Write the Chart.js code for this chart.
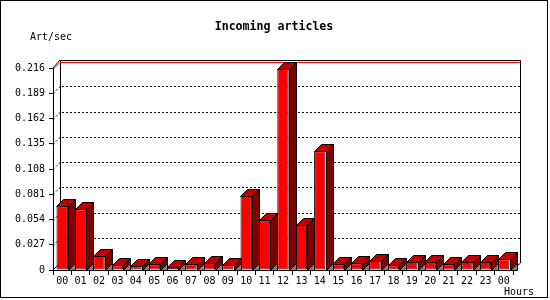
<!DOCTYPE html>
<html>
<head>
<meta charset="utf-8">
<script src="https://cdn.jsdelivr.net/npm/chart.js@4/dist/chart.umd.min.js"></script>
<style>
  html, body { margin: 0; padding: 0; background: #fff; }
  canvas { display: block; }
</style>
</head>
<body>
<canvas id="chart" width="550" height="300"></canvas>
<script>
const hours = ['00', '01', '02', '03', '04', '05', '06', '07', '08', '09', '10', '11',
  '12', '13', '14', '15', '16', '17', '18', '19', '20', '21', '22', '23', '00'];
const incoming = [0.068, 0.065, 0.015, 0.005, 0.004, 0.006, 0.003, 0.006, 0.008, 0.005, 0.079, 0.053,
  0.215, 0.048, 0.127, 0.006, 0.007, 0.010, 0.005, 0.009, 0.009, 0.006, 0.009, 0.009, 0.0115];
const yTicks = [0, 0.027, 0.054, 0.081, 0.108, 0.135, 0.162, 0.189, 0.216];

const MONO = '"DejaVu Sans Mono", monospace';
const DEPTH = 7;

// back wall, dotted grid and the red max line, drawn behind the bars
const backWall = {
  id: 'backWall',
  beforeDatasetsDraw(chart) {
    const { ctx, chartArea: { left, right, top, bottom }, scales: { y } } = chart;
    const bl = left + DEPTH, br = right + DEPTH;
    ctx.save();
    ctx.lineWidth = 1;
    ctx.strokeStyle = '#000';
    ctx.setLineDash([2, 2]);
    yTicks.slice(1, -1).forEach(v => {
      const yf = Math.round(y.getPixelForValue(v)) + 0.5;
      const yb = yf - DEPTH;
      ctx.beginPath();
      ctx.moveTo(left, yf);
      ctx.lineTo(bl, yb);
      ctx.lineTo(br, yb);
      ctx.stroke();
    });
    ctx.setLineDash([]);
    // wall frame
    ctx.beginPath();
    ctx.moveTo(bl + 0.5, bottom - DEPTH);
    ctx.lineTo(bl + 0.5, top - 7.5);
    ctx.lineTo(br + 0.5, top - 7.5);
    ctx.lineTo(br + 0.5, bottom - DEPTH);
    ctx.lineTo(right, bottom);
    ctx.moveTo(left, bottom);
    ctx.lineTo(bl, bottom - DEPTH);
    ctx.moveTo(left, top);
    ctx.lineTo(bl, top - 8);
    ctx.stroke();
    // max line
    const ym = Math.round(y.getPixelForValue(yTicks[yTicks.length - 1])) - 5.5;
    ctx.strokeStyle = '#ff0000';
    ctx.beginPath();
    ctx.moveTo(left, ym + DEPTH);
    ctx.lineTo(bl, ym);
    ctx.lineTo(br, ym);
    ctx.stroke();
    ctx.restore();
  }
};

// top and side faces of the bars plus the little floor shadow
const bars3d = {
  id: 'bars3d',
  afterDatasetsDraw(chart) {
    const { ctx } = chart;
    ctx.save();
    ctx.lineWidth = 1;
    ctx.strokeStyle = '#000';
    chart.getDatasetMeta(0).data.forEach(bar => {
      const x1 = Math.round(bar.x - bar.width / 2) + 0.5;
      const x2 = Math.round(bar.x + bar.width / 2) + 0.5;
      const yt = Math.round(bar.y) + 0.5;
      const yb = Math.round(bar.base) + 0.5;
      const poly = (pts, fill) => {
        ctx.beginPath();
        ctx.moveTo(pts[0][0], pts[0][1]);
        pts.slice(1).forEach(p => ctx.lineTo(p[0], p[1]));
        ctx.closePath();
        ctx.fillStyle = fill;
        ctx.fill();
        ctx.stroke();
      };
      poly([[x2, yb], [x2 + DEPTH, yb - DEPTH], [x2 + DEPTH, yb]], '#808080');
      poly([[x2, yt], [x2 + DEPTH, yt - DEPTH], [x2 + DEPTH, yb - DEPTH], [x2, yb]], '#800000');
      poly([[x1, yt], [x1 + DEPTH, yt - DEPTH], [x2 + DEPTH, yt - DEPTH], [x2, yt]], '#c00000');
    });
    ctx.restore();
  }
};

// title, axis names and frame
const labels = {
  id: 'labels',
  afterDraw(chart) {
    const { ctx } = chart;
    ctx.save();
    ctx.fillStyle = '#000';
    ctx.textBaseline = 'middle';
    ctx.font = 'bold 11.6px ' + MONO;
    ctx.textAlign = 'center';
    ctx.fillText('Incoming articles', 274, 27);
    ctx.font = '10px ' + MONO;
    ctx.textAlign = 'left';
    ctx.fillText('Art/sec', 30, 37);
    ctx.textAlign = 'right';
    ctx.fillText('Hours', 534, 292);
    ctx.strokeStyle = '#000';
    ctx.lineWidth = 1;
    ctx.strokeRect(0.5, 0.5, 547, 297);
    ctx.restore();
  }
};

new Chart(document.getElementById('chart'), {
  type: 'bar',
  data: {
    labels: hours,
    datasets: [{
      data: incoming,
      backgroundColor: '#ff0000',
      borderColor: '#000',
      borderWidth: 1,
      borderSkipped: false,
      barPercentage: 0.62,
      categoryPercentage: 1,
    }]
  },
  options: {
    responsive: false,
    animation: false,
    devicePixelRatio: 1,
    layout: { padding: { top: 68, right: 37, left: 0, bottom: 0 } },
    plugins: {
      legend: { display: false },
      title: { display: false },
      tooltip: { enabled: false },
    },
    scales: {
      x: {
        grid: { offset: true, drawOnChartArea: false, tickLength: 5, color: '#000' },
        border: { color: '#000', width: 1 },
        ticks: {
          color: '#000', font: { family: MONO, size: 10 }, padding: 0,
          maxRotation: 0, autoSkip: false,
        },
        afterFit(scale) { scale.height = 30; },
      },
      y: {
        min: 0,
        max: 0.216,
        grid: { drawOnChartArea: false, tickLength: 4, color: '#000' },
        border: { color: '#000', width: 1 },
        ticks: {
          color: '#000', font: { family: MONO, size: 10 }, padding: 4,
          callback: v => v === 0 ? '0' : v.toFixed(3),
        },
        afterBuildTicks(scale) { scale.ticks = yTicks.map(v => ({ value: v })); },
        afterFit(scale) { scale.width = 53; },
      }
    }
  },
  plugins: [backWall, bars3d, labels],
});
</script>
</body>
</html>
